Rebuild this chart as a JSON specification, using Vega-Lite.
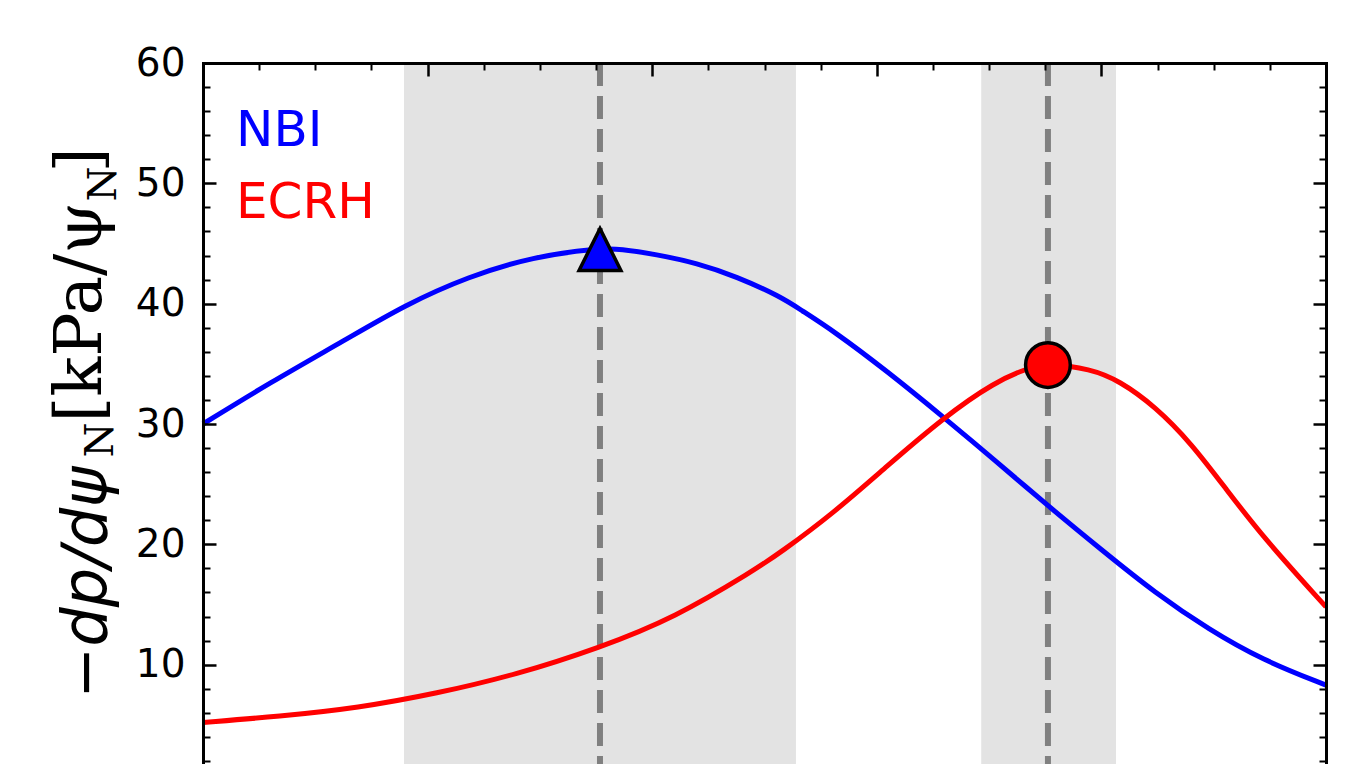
{
  "$schema": "https://vega.github.io/schema/vega-lite/v6.json",
  "autosize": {"type": "none"},
  "padding": {"left": 203, "top": 63, "right": 39, "bottom": 60},
  "width": 1123,
  "height": 722,
  "background": "white",
  "config": {"view": {"stroke": null}},
  "datasets": {
    "bands": [
      {"lo": 0.179, "hi": 0.528, "center": 0.3535},
      {"lo": 0.693, "hi": 0.813, "center": 0.7524}
    ],
    "nbi": [
      {"series": "NBI", "x": 0.0, "y": 30.0},
      {"series": "NBI", "x": 0.059, "y": 33.4},
      {"series": "NBI", "x": 0.127, "y": 37.0},
      {"series": "NBI", "x": 0.18, "y": 39.9},
      {"series": "NBI", "x": 0.236, "y": 42.25},
      {"series": "NBI", "x": 0.294, "y": 43.9},
      {"series": "NBI", "x": 0.352, "y": 44.6},
      {"series": "NBI", "x": 0.372, "y": 44.55},
      {"series": "NBI", "x": 0.403, "y": 44.1},
      {"series": "NBI", "x": 0.44, "y": 43.37},
      {"series": "NBI", "x": 0.475, "y": 42.25},
      {"series": "NBI", "x": 0.514, "y": 40.6},
      {"series": "NBI", "x": 0.532, "y": 39.5},
      {"series": "NBI", "x": 0.562, "y": 37.7},
      {"series": "NBI", "x": 0.609, "y": 34.4},
      {"series": "NBI", "x": 0.659, "y": 30.6},
      {"series": "NBI", "x": 0.705, "y": 27.0},
      {"series": "NBI", "x": 0.753, "y": 23.15},
      {"series": "NBI", "x": 0.8, "y": 19.55},
      {"series": "NBI", "x": 0.848, "y": 15.95},
      {"series": "NBI", "x": 0.896, "y": 12.9},
      {"series": "NBI", "x": 0.943, "y": 10.4},
      {"series": "NBI", "x": 1.0, "y": 8.3}
    ],
    "ecrh": [
      {"series": "ECRH", "x": 0.0, "y": 5.2},
      {"series": "ECRH", "x": 0.068, "y": 5.7},
      {"series": "ECRH", "x": 0.138, "y": 6.4},
      {"series": "ECRH", "x": 0.208, "y": 7.6},
      {"series": "ECRH", "x": 0.279, "y": 9.17},
      {"series": "ECRH", "x": 0.353, "y": 11.4},
      {"series": "ECRH", "x": 0.42, "y": 13.9},
      {"series": "ECRH", "x": 0.49, "y": 17.8},
      {"series": "ECRH", "x": 0.514, "y": 19.3},
      {"series": "ECRH", "x": 0.5615, "y": 22.6},
      {"series": "ECRH", "x": 0.609, "y": 26.5},
      {"series": "ECRH", "x": 0.659, "y": 30.5},
      {"series": "ECRH", "x": 0.705, "y": 33.5},
      {"series": "ECRH", "x": 0.736, "y": 34.7},
      {"series": "ECRH", "x": 0.753, "y": 35.0},
      {"series": "ECRH", "x": 0.79, "y": 34.6},
      {"series": "ECRH", "x": 0.816, "y": 33.6},
      {"series": "ECRH", "x": 0.848, "y": 31.45},
      {"series": "ECRH", "x": 0.88, "y": 28.4},
      {"series": "ECRH", "x": 0.911, "y": 24.6},
      {"series": "ECRH", "x": 0.943, "y": 20.7},
      {"series": "ECRH", "x": 1.0, "y": 14.8}
    ],
    "peakNBI": [{"x": 0.3535, "y": 44.5}],
    "peakECRH": [{"x": 0.7524, "y": 34.9}]
  },
  "resolve": {"axis": {"x": "independent", "y": "independent"}},
  "layer": [
    {
      "data": {"name": "bands"},
      "mark": {"type": "rect", "color": "#e3e3e3"},
      "encoding": {
        "x": {
          "field": "lo", "type": "quantitative",
          "scale": {"domain": [0, 1], "nice": false, "zero": false},
          "axis": {
            "orient": "top", "values": [0, 0.2, 0.4, 0.6, 0.8, 1.0],
            "labels": false, "grid": false, "zindex": 1,
            "ticks": true, "tickSize": -13, "tickWidth": 2.5, "tickColor": "black",
            "domain": true, "domainColor": "black", "domainWidth": 3, "domainCap": "square",
            "title": "]", "titleFont": "DejaVu Serif", "titleFontSize": 64, "titleFontWeight": "normal",
            "titleColor": "black", "titleAngle": -90, "titleAlign": "left", "titleBaseline": "alphabetic",
            "titleX": -103, "titleY": 109
          }
        },
        "x2": {"field": "hi"}
      }
    },
    {
      "data": {"name": "bands"},
      "mark": {"type": "rule", "color": "#808080", "strokeWidth": 6, "strokeDash": [23, 10]},
      "encoding": {
        "x": {
          "field": "center", "type": "quantitative",
          "scale": {"domain": [0, 1], "nice": false, "zero": false},
          "axis": {
            "orient": "top",
            "values": [0.05, 0.1, 0.15, 0.25, 0.3, 0.35, 0.45, 0.5, 0.55, 0.65, 0.7, 0.75, 0.85, 0.9, 0.95],
            "labels": false, "grid": false, "zindex": 1, "domain": false,
            "ticks": true, "tickSize": -7, "tickWidth": 2, "tickColor": "black",
            "title": "N", "titleFont": "DejaVu Serif", "titleFontSize": 40, "titleFontWeight": "normal",
            "titleColor": "black", "titleAngle": -90, "titleAlign": "left", "titleBaseline": "alphabetic",
            "titleX": -88, "titleY": 138
          }
        }
      }
    },
    {
      "data": {"name": "nbi"},
      "mark": {"type": "line", "strokeWidth": 5, "interpolate": "basis"},
      "encoding": {
        "x": {"field": "x", "type": "quantitative", "scale": {"domain": [0, 1], "nice": false, "zero": false}, "axis": null},
        "y": {
          "field": "y", "type": "quantitative",
          "scale": {"domain": [0, 60], "nice": false, "zero": false},
          "axis": {
            "orient": "left", "values": [0, 10, 20, 30, 40, 50, 60],
            "labelExpr": "datum.value == 0 ? '' : datum.label",
            "grid": false, "zindex": 1,
            "ticks": true, "tickSize": -13, "tickWidth": 2.5, "tickColor": "black",
            "domain": true, "domainColor": "black", "domainWidth": 3, "domainCap": "square",
            "labels": true, "labelFont": "DejaVu Sans", "labelFontSize": 39, "labelColor": "black",
            "labelPadding": 31, "labelFlush": false, "labelOverlap": false, "labelBound": false,
            "title": "−dp/dψ", "titleFont": "DejaVu Sans", "titleFontStyle": "italic", "titleFontSize": 62,
            "titleFontWeight": "normal", "titleColor": "black", "titleAngle": -90, "titleAlign": "left",
            "titleBaseline": "alphabetic", "titleX": -98, "titleY": 635
          }
        },
        "color": {
          "field": "series", "type": "nominal",
          "scale": {"domain": ["NBI", "ECRH"], "range": ["#0000ff", "#ff0000"]},
          "legend": {
            "orient": "none", "legendX": -17, "legendY": 43, "title": null,
            "direction": "vertical", "padding": 0, "rowPadding": 22,
            "symbolSize": 0, "symbolOpacity": 0, "symbolStrokeWidth": 0, "labelOffset": 0,
            "labelFont": "DejaVu Sans", "labelFontSize": 50, "labelLimit": 400,
            "encode": {"labels": {"update": {"fill": {"scale": "color", "field": "value"}}}}
          }
        }
      }
    },
    {
      "data": {"name": "ecrh"},
      "mark": {"type": "line", "strokeWidth": 5, "interpolate": "basis"},
      "encoding": {
        "x": {"field": "x", "type": "quantitative", "scale": {"domain": [0, 1], "nice": false, "zero": false}, "axis": null},
        "y": {
          "field": "y", "type": "quantitative",
          "scale": {"domain": [0, 60], "nice": false, "zero": false},
          "axis": {
            "orient": "left",
            "values": [2, 4, 6, 8, 12, 14, 16, 18, 22, 24, 26, 28, 32, 34, 36, 38, 42, 44, 46, 48, 52, 54, 56, 58],
            "grid": false, "zindex": 1, "labels": false, "domain": false,
            "ticks": true, "tickSize": -7, "tickWidth": 2, "tickColor": "black",
            "title": "[kPa/ψ", "titleFont": "DejaVu Serif", "titleFontSize": 66, "titleFontWeight": "normal",
            "titleColor": "black", "titleAngle": -90, "titleAlign": "left", "titleBaseline": "alphabetic",
            "titleX": -103, "titleY": 359
          }
        },
        "color": {"field": "series", "type": "nominal"}
      }
    },
    {
      "data": {"name": "peakNBI"},
      "mark": {"type": "point", "shape": "M0,-1L1,1L-1,1Z", "size": 1750, "filled": true, "fill": "#0000ff", "stroke": "black", "strokeWidth": 3.5, "opacity": 1},
      "encoding": {
        "x": {"field": "x", "type": "quantitative", "scale": {"domain": [0, 1], "nice": false, "zero": false}, "axis": null},
        "y": {
          "field": "y", "type": "quantitative",
          "scale": {"domain": [0, 60], "nice": false, "zero": false},
          "axis": {
            "orient": "right", "values": [0, 10, 20, 30, 40, 50, 60],
            "grid": false, "zindex": 1, "labels": false,
            "ticks": true, "tickSize": -13, "tickWidth": 2.5, "tickColor": "black",
            "domain": true, "domainColor": "black", "domainWidth": 3, "domainCap": "square",
            "title": "N", "titleFont": "DejaVu Serif", "titleFontSize": 40, "titleFontWeight": "normal",
            "titleColor": "black", "titleAngle": -90, "titleAlign": "left", "titleBaseline": "alphabetic",
            "titleX": -1214, "titleY": 394
          }
        }
      }
    },
    {
      "data": {"name": "peakECRH"},
      "mark": {"type": "point", "shape": "circle", "size": 2000, "filled": true, "fill": "#ff0000", "stroke": "black", "strokeWidth": 3.5, "opacity": 1},
      "encoding": {
        "x": {"field": "x", "type": "quantitative", "scale": {"domain": [0, 1], "nice": false, "zero": false}, "axis": null},
        "y": {
          "field": "y", "type": "quantitative",
          "scale": {"domain": [0, 60], "nice": false, "zero": false},
          "axis": {
            "orient": "right",
            "values": [2, 4, 6, 8, 12, 14, 16, 18, 22, 24, 26, 28, 32, 34, 36, 38, 42, 44, 46, 48, 52, 54, 56, 58],
            "grid": false, "zindex": 1, "labels": false, "domain": false,
            "ticks": true, "tickSize": -7, "tickWidth": 2, "tickColor": "black",
            "title": null
          }
        }
      }
    }
  ]
}
